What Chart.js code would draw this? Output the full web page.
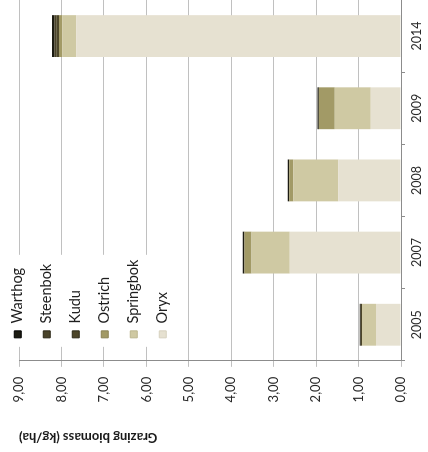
<!DOCTYPE html>
<html><head><meta charset="utf-8">
<script src="https://cdn.jsdelivr.net/npm/chart.js@4"></script>
<style>
html,body{margin:0;padding:0;background:#fff;overflow:hidden;width:428px;height:452px;}
#wrap{position:absolute;left:0;top:0;width:452px;height:428px;transform-origin:0 0;transform:translateY(452px) rotate(-90deg);}
</style></head><body>
<div id="wrap"><canvas id="c" width="452" height="428"></canvas></div>
<script>
const years = ['2005', '2007', '2008', '2009', '2014'];
const oryx      = [0.59, 2.62, 1.48, 0.71, 7.65];
const springbok = [0.33, 0.90, 1.06, 0.85, 0.33];
const ostrich   = [0.00, 0.17, 0.09, 0.37, 0.08];
const kudu      = [0.03, 0.00, 0.00, 0.00, 0.06];
const steenbok  = [0.00, 0.01, 0.01, 0.01, 0.05];
const warthog   = [0.02, 0.03, 0.03, 0.03, 0.05];
const valueTickLabels = ['0,00', '1,00', '2,00', '3,00', '4,00', '5,00', '6,00', '7,00', '8,00', '9,00'];
const axisTitle = 'Grazing biomass (kg/ha)';

const FONT = 'Lato';

const legendShift = {
  id: 'legendShift',
  afterLayout(chart) {
    const lg = chart.legend;
    if (!lg) return;
    const ca = chart.chartArea;
    lg.left = ca.left + 8.5;
    lg.right = lg.left + lg.width;
    lg.top = -4;
    lg.bottom = lg.top + 420;
    if (!lg._bgPatched) {
      const orig = lg.draw;
      lg.draw = function (area) {
        const ctx = this.ctx;
        const c = this.chart.chartArea;
        ctx.save();
        ctx.fillStyle = '#ffffff';
        ctx.fillRect(c.left + 14, c.top - 1, 92, 160);
        ctx.restore();
        return orig.call(this, area);
      };
      lg._bgPatched = true;
    }
  }
};

function ds(label, data, color, edge) {
  return { label, data, backgroundColor: color, borderColor: edge, borderWidth: 0, barPercentage: 0.58, categoryPercentage: 1 };
}

new Chart(document.getElementById('c'), {
  type: 'bar',
  data: {
    labels: years,
    datasets: [
      ds('Oryx', oryx, '#e6e1d1', '#d6d1bf'),
      ds('Springbok', springbok, '#cfc9a3', '#bcb68f'),
      ds('Ostrich', ostrich, '#a29a66', '#8a8355'),
      ds('Kudu', kudu, '#4d4629', '#2e2a18'),
      ds('Steenbok', steenbok, '#4a432a', '#2c2818'),
      ds('Warthog', warthog, '#1c1b12', '#000000')
    ]
  },
  plugins: [legendShift],
  options: {
    responsive: false,
    animation: false,
    layout: { padding: { left: 3, right: -3, top: 19, bottom: 0 } },
    plugins: {
      legend: {
        position: 'chartArea',
        align: 'start',
        reverse: true,
        labels: {
          boxWidth: 7, boxHeight: 7, padding: 14.5, color: '#1e1e1e', font: { family: FONT, size: 14.5 },
          generateLabels(chart) {
            const items = Chart.defaults.plugins.legend.labels.generateLabels(chart);
            items.forEach((it) => {
              const d = chart.data.datasets[it.datasetIndex];
              it.strokeStyle = d.borderColor;
              it.lineWidth = 1;
            });
            return items;
          }
        }
      },
      tooltip: { enabled: false }
    },
    scales: {
      x: {
        stacked: true,
        grid: { offset: true, drawOnChartArea: false, drawTicks: true, tickLength: 4, color: '#8c8c8c' },
        border: { color: '#8c8c8c', width: 1 },
        ticks: { color: '#2a2a2a', padding: 4, maxRotation: 0, font: { family: FONT, size: 12.5 } }
      },
      y: {
        stacked: true,
        min: 0, max: 9,
        ticks: { stepSize: 1, padding: 10, color: '#2a2a2a', font: { family: FONT, size: 13 },
                 callback: (v) => valueTickLabels[v] },
        grid: { color: '#c0c0c0', tickLength: 6, drawTicks: true },
        border: { color: '#8c8c8c', width: 1 },
        title: { display: true, text: axisTitle, align: 'end', color: '#1a1a1a',
                 font: { family: FONT, size: 13, weight: 'bold' }, padding: { top: 4, bottom: 17 } }
      }
    }
  }
});
</script>
</body></html>
